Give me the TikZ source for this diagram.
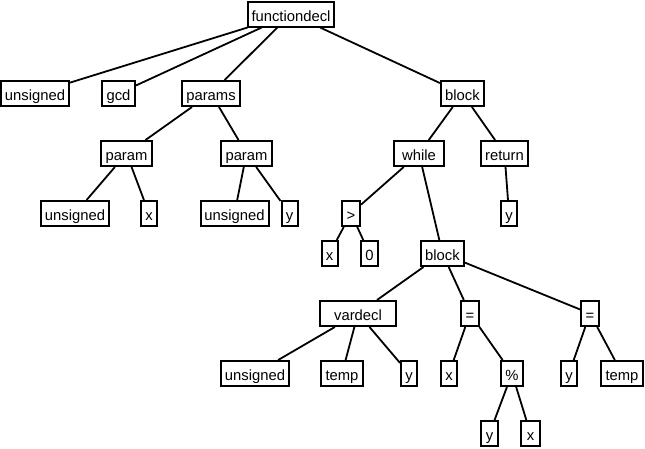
\documentclass[tikz,border=0pt]{standalone}
\usepackage{fontspec}
\setmainfont{Liberation Sans}
\tikzset{
  bx/.style={draw=black, line width=2pt, fill=white, inner sep=0pt,
    minimum height=25pt, text height=14pt, text depth=0pt,
    font=\fontsize{14.8}{16}\selectfont},
  edge/.style={draw=black, line width=1.8pt}
}
\newcommand{\Bx}[5]{\node[bx, minimum width=#4pt-2pt] (#1) at (#2,#3) {#5};}
\begin{document}
\begin{tikzpicture}[x=1pt,y=-1pt]
\useasboundingbox[fill=white] (0,0) rectangle (645,448);
% level 0
\Bx{fd}{291}{14}{88}{functiondecl}
% level 1
\Bx{ua}{35}{93.5}{70}{unsigned}
\Bx{gcd}{118.5}{93.5}{35}{gcd}
\Bx{params}{211}{93.5}{60}{params}
\Bx{blka}{462.5}{93.5}{45}{block}
% level 2
\Bx{pa}{126.5}{153.5}{53}{param}
\Bx{pb}{246.5}{153.5}{53}{param}
\Bx{while}{419}{153.5}{52}{while}
\Bx{ret}{504.5}{153.5}{49}{return}
% level 3
\Bx{ub}{75}{213.5}{70}{unsigned}
\Bx{xa}{149}{213.5}{18}{x}
\Bx{uc}{234.5}{213.5}{70}{unsigned}
\Bx{ya}{289.5}{213.5}{18}{y}
\Bx{gt}{351}{213.5}{20}{>}
\Bx{yr}{509}{213.5}{18}{y}
% level 4
\Bx{xb}{329.5}{253.5}{18}{x}
\Bx{zero}{369.5}{253.5}{19}{0}
\Bx{blkb}{442.5}{253.5}{45}{block}
% level 5
\Bx{vd}{358}{313.5}{78}{vardecl}
\Bx{eqa}{470}{313.5}{20}{=}
\Bx{eqb}{590}{313.5}{20}{=}
% level 6
\Bx{ud}{255}{373.5}{70}{unsigned}
\Bx{tma}{342}{373.5}{44}{temp}
\Bx{yb}{409}{373.5}{18}{y}
\Bx{xc}{449}{373.5}{18}{x}
\Bx{mod}{512}{373.5}{24}{\%}
\Bx{yc}{569}{373.5}{18}{y}
\Bx{tmb}{622}{373.5}{44}{temp}
% level 7
\Bx{yd}{489.5}{433.5}{19}{y}
\Bx{xd}{530.5}{433.5}{21}{x}
% edges
\foreach \a/\b in {fd/ua, fd/gcd, fd/params, fd/blka,
  params/pa, params/pb, pa/ub, pa/xa, pb/uc, pb/ya,
  blka/while, blka/ret, while/gt, while/blkb, ret/yr,
  gt/xb, gt/zero, blkb/vd, blkb/eqa, blkb/eqb,
  vd/ud, vd/tma, vd/yb, eqa/xc, eqa/mod, mod/yd, mod/xd,
  eqb/yc, eqb/tmb}
  \draw[edge] (\a) -- (\b);
\end{tikzpicture}
\end{document}
